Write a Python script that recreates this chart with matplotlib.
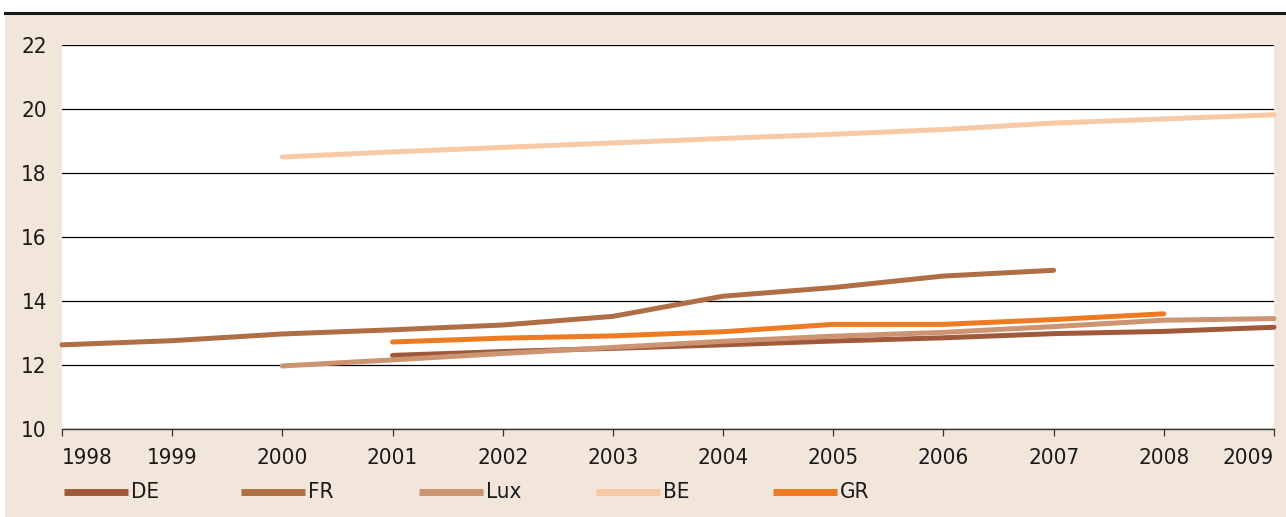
import matplotlib
matplotlib.use("Agg")
import matplotlib.pyplot as plt
from matplotlib.patches import Rectangle
from matplotlib.lines import Line2D

plt.rcParams['font.family'] = ['DejaVu Sans']
plt.rcParams['font.stretch'] = 'condensed'

years = list(range(1998, 2010))

de_years = [2001, 2002, 2003, 2004, 2005, 2006, 2007, 2008, 2009]
de_vals = [12.30, 12.42, 12.52, 12.63, 12.75, 12.85, 12.98, 13.05, 13.18]

fr_years = [1998, 1999, 2000, 2001, 2002, 2003, 2004, 2005, 2006, 2007]
fr_vals = [12.63, 12.76, 12.97, 13.10, 13.25, 13.52, 14.15, 14.42, 14.78, 14.96]

lux_years = [2000, 2001, 2002, 2003, 2004, 2005, 2006, 2007, 2008, 2009]
lux_vals = [11.97, 12.16, 12.36, 12.55, 12.74, 12.90, 13.02, 13.20, 13.40, 13.45]

be_years = [2000, 2001, 2002, 2003, 2004, 2005, 2006, 2007, 2008, 2009]
be_vals = [18.50, 18.66, 18.80, 18.94, 19.08, 19.21, 19.36, 19.56, 19.69, 19.82]

gr_years = [2001, 2002, 2003, 2004, 2005, 2006, 2007, 2008]
gr_vals = [12.72, 12.84, 12.91, 13.04, 13.27, 13.27, 13.42, 13.60]

labels = ['DE', 'FR', 'Lux', 'BE', 'GR']
colors = ['#A0593A', '#B06E45', '#CC9470', '#F8C9A5', '#EE7A22']
series = [(de_years, de_vals), (fr_years, fr_vals), (lux_years, lux_vals),
          (be_years, be_vals), (gr_years, gr_vals)]

W, H = 1286, 517
fig = plt.figure(figsize=(W / 100, H / 100), dpi=100)
fig.patch.set_facecolor('white')

# beige panel and the dark rule on top
fig.patches.append(Rectangle((5 / W, 0), 1 - 5 / W, 1 - 14 / H,
                             transform=fig.transFigure, facecolor='#F2E5DA',
                             edgecolor='none', zorder=-2))
fig.add_artist(Line2D([5 / W, 1], [1 - 13 / H, 1 - 13 / H], color='#1a1a1a',
                      lw=2.2, transform=fig.transFigure))

ax = fig.add_axes([62 / W, 1 - 429 / H, (1274 - 62) / W, (429 - 45) / H])
ax.set_facecolor('white')
ax.set_xlim(1998, 2009)
ax.set_ylim(10, 22)

# draw order: BE at back, then the browns, GR on top of Lux/DE
order = [3, 1, 0, 2, 4]
for i in order:
    x, y = series[i]
    ax.plot(x, y, color=colors[i], lw=3.6, solid_capstyle='round',
            solid_joinstyle='round', clip_on=False, zorder=3)

ax.set_yticks(range(10, 23, 2))
ax.yaxis.grid(True, color='black', lw=0.9)
ax.set_axisbelow(True)
for s in ['top', 'left', 'right']:
    ax.spines[s].set_visible(False)
ax.spines['bottom'].set_color('#333333')
ax.spines['bottom'].set_linewidth(1.0)
ax.tick_params(axis='y', length=0, pad=11, labelsize=16, labelcolor='#1a1a1a')
ax.tick_params(axis='x', length=5, width=0.9, color='#333333', pad=9,
               labelsize=16, labelcolor='#1a1a1a', direction='out')
ax.set_xticks(years)
ax.set_xticklabels([str(y) for y in years])
xl = ax.get_xticklabels()
xl[0].set_horizontalalignment('left')
xl[-1].set_horizontalalignment('right')

# legend row below the axis
y_leg = 1 - 492 / H
for k, (lab, c) in enumerate(zip(labels, colors)):
    x0 = (64 + k * 177.3) / W
    fig.add_artist(Line2D([x0, x0 + 64 / W], [y_leg, y_leg], color=c, lw=5,
                          solid_capstyle='butt', transform=fig.transFigure))
    fig.text(x0 + 67 / W, y_leg, lab, fontsize=16, va='center', ha='left',
             color='#1a1a1a')

fig.savefig('out.png', dpi=100, facecolor=fig.get_facecolor())
